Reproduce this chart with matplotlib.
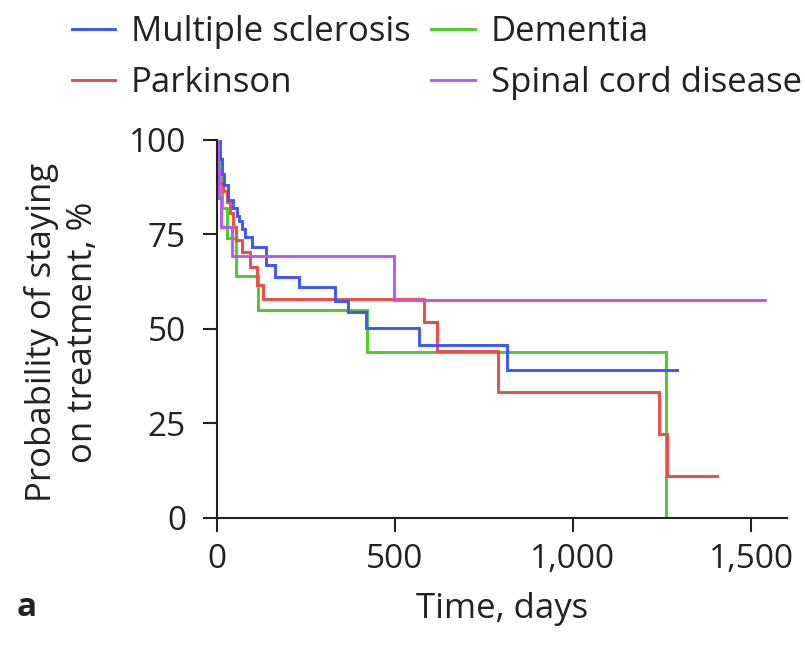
import matplotlib
matplotlib.use("Agg")
import matplotlib.pyplot as plt

plt.rcParams['font.family'] = ['Open Sans', 'DejaVu Sans']

# Kaplan-Meier style step data: day of each step and survival (%) after it
ms_days = [0, 10, 16, 22, 33, 45, 56, 62, 70, 80, 98, 140, 164, 231, 331, 369, 420, 568, 814, 1293]
ms_surv = [100, 95, 91, 88, 84, 82, 80, 78.5, 76.5, 74.4, 71.7, 66.8, 63.7, 61.1, 57.5, 54.5, 50.3, 45.6, 39.1, 39.1]

pd_days = [0, 2, 5, 8, 19, 28, 38, 47, 55, 70, 94, 112, 131, 581, 618, 789, 1243, 1265, 1405]
pd_surv = [100, 94, 91, 88.6, 86.4, 83.5, 80.6, 77, 73.5, 70.4, 66.4, 61.5, 58.0, 51.8, 44.2, 33.2, 22.1, 11.1, 11.1]

dem_days = [0, 6, 14, 30, 54, 115, 421, 1262]
dem_surv = [100, 91, 82, 74, 64, 55, 44, 0]

sc_days = [0, 3, 7, 12, 42, 497, 1538]
sc_surv = [100, 92.3, 84.6, 76.9, 69.2, 57.7, 57.7]

labels = ["Multiple sclerosis", "Parkinson", "Dementia", "Spinal cord disease"]
colors = ["#3d55ff", "#f04a45", "#4ccc26", "#bb55ff"]

x_ticks = [0, 500, 1000, 1500]
x_ticklabels = ["0", "500", "1,000", "1,500"]
y_ticks = [0, 25, 50, 75, 100]

W, H = 805, 655
fig = plt.figure(figsize=(W / 100, H / 100), dpi=100)
ax_l, ax_r, ax_t, ax_b = 216.6, 786.7, 140.0, 517.7
ax = fig.add_axes([ax_l / W, 1 - ax_b / H, (ax_r - ax_l) / W, (ax_b - ax_t) / H])

series = {
    "Dementia": (dem_days, dem_surv, colors[2]),
    "Parkinson": (pd_days, pd_surv, colors[1]),
    "Multiple sclerosis": (ms_days, ms_surv, colors[0]),
    "Spinal cord disease": (sc_days, sc_surv, colors[3]),
}
handles = {}
for name, (d, s, c) in series.items():
    (ln,) = ax.step(d, s, where="post", color=c, lw=2.1, solid_joinstyle="miter")
    handles[name] = ln

ax.set_xlim(0, 1600)
ax.set_ylim(0, 100)
ax.set_xticks(x_ticks)
ax.set_xticklabels(x_ticklabels)
ax.set_yticks(y_ticks)
for side in ("top", "right"):
    ax.spines[side].set_visible(False)
for side in ("left", "bottom"):
    ax.spines[side].set_linewidth(1.5)
    ax.spines[side].set_color("#222222")
ax.tick_params(axis="both", direction="out", length=10, width=1.5, color="#222222",
               labelsize=24, labelcolor="#222222")
ax.tick_params(axis="y", pad=12)
ax.tick_params(axis="x", pad=8)

ax.set_xlabel("Time, days", fontsize=25, color="#222222")
ax.xaxis.set_label_coords(0.5, (ax_b - 618) / (ax_b - ax_t))
ax.xaxis.label.set_va("baseline")

ax.set_ylabel("Probability of staying\non treatment, %", fontsize=25, color="#222222",
              linespacing=1.25)
ax.yaxis.set_label_coords((100 - ax_l) / (ax_r - ax_l), 0.49)

fig.text(17 / W, 1 - 616 / H, "a", fontsize=24, fontweight="bold", va="baseline",
         color="#222222")

order = labels
leg = fig.legend([handles[n] for n in order], order, ncol=2, loc="upper left",
                 bbox_to_anchor=(72 / W, 1 - 15 / H), frameon=False, fontsize=25,
                 handlelength=1.25, handletextpad=0.45, columnspacing=0.6,
                 labelspacing=0.5, borderpad=0, borderaxespad=0)
for t in leg.get_texts():
    t.set_color("#222222")

fig.savefig("out.png", dpi=100)
